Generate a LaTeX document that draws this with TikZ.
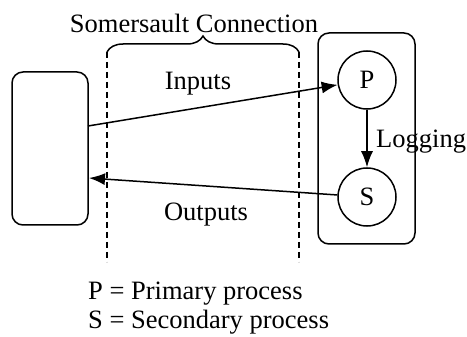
\documentclass[tikz,border=0pt]{standalone}
\usepackage{fontspec}
\setmainfont{Liberation Serif}
\usetikzlibrary{decorations.pathreplacing,arrows.meta}
\begin{document}
\begin{tikzpicture}[x=1pt,y=-1pt,
  every node/.style={font=\fontsize{26.5}{31}\selectfont},
  box/.style={draw,line width=1.5pt,rounded corners=11pt},
  proc/.style={draw,circle,line width=1.5pt,minimum size=58pt,inner sep=0pt},
  conn/.style={line width=1.5pt,-{Latex[length=16pt,width=12pt]}},
  sep/.style={line width=1.2pt,dash pattern=on 6pt off 4pt}]
\useasboundingbox (0,0) rectangle (467,337);
\draw[box] (12,72) rectangle (88,225);
\draw[box] (318,33) rectangle (415,244);
\node[proc] (P) at (367,80) {P};
\node[proc] (S) at (367,197) {S};
\coordinate (d1t) at (107,52); \coordinate (d1b) at (107,262);
\coordinate (d2t) at (299,52); \coordinate (d2b) at (299,262);
\draw[sep] (d1t) -- (d1b);
\draw[sep] (d2t) -- (d2b);
\draw[line width=1.5pt,decorate,decoration={brace,amplitude=16pt}] (d1t) -- (d2t);
\node (som) at (194,23) {Somersault Connection};
\coordinate (inS) at (88,126);
\coordinate (outE) at (89,178);
\draw[conn] (inS) -- (P);
\draw[conn] (S) -- (outE);
\draw[conn] (P) -- (S);
\node (in) at (198,84) {Inputs};
\node (out) at (206,215) {Outputs};
\node[anchor=west,inner sep=0pt] (log) at (376,142) {Logging};
\node[anchor=west,inner sep=0pt] (l1) at (88,294) {P = Primary process};
\node[anchor=west,inner sep=0pt] (l2) at (88,322) {S = Secondary process};
\end{tikzpicture}
\end{document}
